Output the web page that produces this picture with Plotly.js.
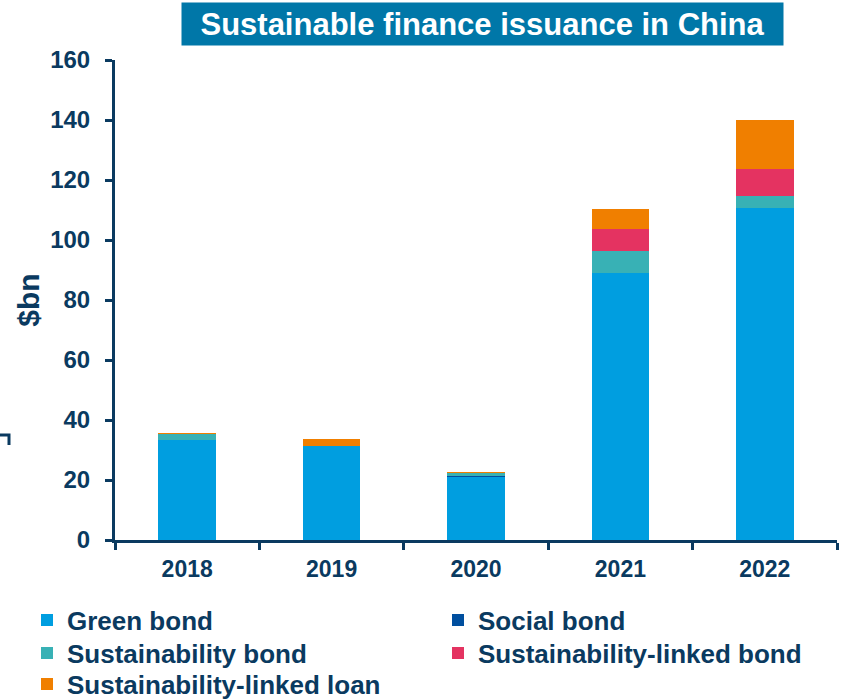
<!DOCTYPE html>
<html>
<head>
<meta charset="utf-8">
<script src="https://cdn.plot.ly/plotly-3.0.1.min.js"></script>
<style>html,body{margin:0;padding:0;background:#fff;}#chart{width:844px;height:700px;}</style>
</head>
<body>
<div id="chart"></div>
<script>
const years = ["2018", "2019", "2020", "2021", "2022"];
const greenBond = [33.5, 31.3, 21.0, 89.1, 110.7];
const socialBond = [0, 0, 0.4, 0, 0];
const sustainabilityBond = [2.0, 0, 1.1, 7.3, 4.1];
const sustainabilityLinkedBond = [0, 0, 0, 7.2, 8.9];
const sustainabilityLinkedLoan = [0.3, 2.3, 0.3, 6.9, 16.3];
const yTicks = [0, 20, 40, 60, 80, 100, 120, 140, 160];

const navy = "#0A3A60";
const FONT = "Liberation Sans, Arial, sans-serif";

function bar(name, vals, color, legendId) {
  return {type: "bar", name: name, x: years, y: vals, legend: legendId,
    marker: {color: color, line: {width: 0}}, hoverinfo: "x+y+name"};
}
const data = [
  bar("Green bond", greenBond, "#009EE0", "legend"),
  bar("Social bond", socialBond, "#004F9F", "legend"),
  bar("Sustainability bond", sustainabilityBond, "#38B1B5", "legend2"),
  bar("Sustainability-linked bond", sustainabilityLinkedBond, "#E43361", "legend2"),
  bar("Sustainability-linked loan", sustainabilityLinkedLoan, "#F07F00", "legend3")
];

function legendRow(centerPx) {
  return {
    orientation: "h", xref: "paper", yref: "paper",
    x: (27 - 115) / 722, xanchor: "left", y: (540 - centerPx) / 480, yanchor: "middle",
    font: {family: FONT, size: 26, color: navy, weight: "bold"},
    entrywidth: 366, traceorder: "normal", itemclick: false,
    bgcolor: "rgba(0,0,0,0)"
  };
}

const layout = {
  width: 844, height: 700,
  margin: {l: 115, r: 7, t: 60, b: 160, autoexpand: false},
  paper_bgcolor: "#fff", plot_bgcolor: "#fff",
  barmode: "stack", bargap: 0.6,
  font: {family: FONT, color: navy},
  showlegend: true,
  legend: legendRow(620),
  legend2: legendRow(653),
  legend3: legendRow(684),
  xaxis: {
    type: "category", showgrid: false, zeroline: false,
    showline: true, linecolor: navy, linewidth: 3,
    ticks: "outside", tickson: "boundaries", ticklen: 7, tickwidth: 3, tickcolor: navy,
    tickfont: {family: FONT, size: 23, color: navy, weight: "bold"},
    ticklabelstandoff: 6
  },
  yaxis: {
    range: [0, 160], tickvals: yTicks, ticktext: yTicks.map(String),
    showgrid: false, zeroline: false,
    showline: true, linecolor: navy, linewidth: 3,
    ticks: "outside", ticklen: 7, tickwidth: 3, tickcolor: navy,
    tickfont: {family: FONT, size: 24, color: navy, weight: "bold"},
    ticklabelstandoff: 10,
    title: {text: "$bn", font: {family: FONT, size: 30, color: navy, weight: "bold"}, standoff: 2}
  },
  annotations: [{
    text: "Sustainable finance issuance in China",
    xref: "paper", yref: "paper",
    x: (482.5 - 115) / 722, y: (540 - 24) / 480,
    xanchor: "center", yanchor: "middle", showarrow: false,
    font: {family: FONT, size: 31, color: "#ffffff", weight: "bold"},
    bgcolor: "#0077A8", width: 597, height: 38, borderpad: 2
  }],
  shapes: [{
    type: "path", xref: "paper", yref: "paper",
    path: "M " + (-115/722) + "," + ((540-435)/480) + " L " + (-106/722) + "," + ((540-435)/480) + " L " + (-106/722) + "," + ((540-445)/480),
    line: {color: navy, width: 3}
  }]
};

Plotly.newPlot("chart", data, layout, {displayModeBar: false, staticPlot: true});
</script>
</body>
</html>
